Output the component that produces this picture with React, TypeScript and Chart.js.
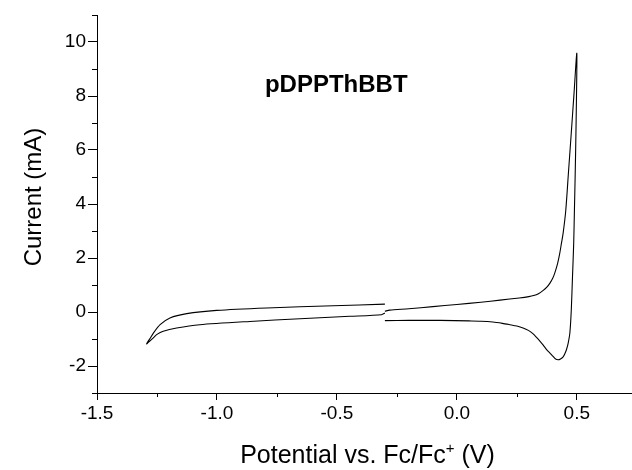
import React, { useEffect, useRef } from "react";
import { Chart, registerables } from "chart.js";

Chart.register(...registerables);

// Forward scan (from -0.3 V towards +0.5 V) and its return to -0.3 V
const anodicPotential = [
  -0.30, -0.28, -0.20, -0.10, 0.00, 0.10, 0.18, 0.26, 0.30, 0.32, 0.34, 0.36, 0.375, 0.388, 0.40,
  0.408, 0.42, 0.429, 0.436, 0.443, 0.454, 0.465, 0.477, 0.488, 0.50,
  0.497, 0.493, 0.49, 0.487, 0.482, 0.477, 0.471, 0.464, 0.457, 0.45, 0.443, 0.432, 0.422, 0.41,
  0.401, 0.388, 0.374, 0.36, 0.346, 0.332, 0.318, 0.298, 0.276, 0.25, 0.221, 0.19, 0.15, 0.10,
  0.05, -0.07, -0.20, -0.30,
];
const anodicCurrent = [
  0.03, 0.07, 0.12, 0.20, 0.28, 0.36, 0.44, 0.52, 0.57, 0.61, 0.68, 0.80, 0.92, 1.07, 1.26,
  1.44, 1.80, 2.18, 2.55, 2.92, 3.77, 5.15, 6.65, 8.05, 9.58,
  7.0, 5.0, 3.77, 2.55, 1.31, 0.08, -0.78, -1.15, -1.39, -1.55, -1.66, -1.74, -1.77, -1.73,
  -1.64, -1.52, -1.39, -1.23, -1.08, -0.94, -0.81, -0.68, -0.59, -0.52, -0.47, -0.42, -0.37, -0.34,
  -0.33, -0.31, -0.31, -0.32,
];

// Scan from -0.3 V towards -1.3 V and back to -0.3 V
const cathodicPotential = [
  -0.30, -0.314, -0.446, -0.654, -0.863, -1.071, -1.168, -1.224, -1.25, -1.265, -1.28, -1.293,
  -1.279, -1.265, -1.237, -1.196, -1.126, -1.001, -0.793, -0.515, -0.30,
];
const cathodicCurrent = [
  -0.04, -0.10, -0.16, -0.25, -0.35, -0.47, -0.59, -0.71, -0.83, -0.96, -1.08, -1.18,
  -0.98, -0.78, -0.47, -0.22, -0.06, 0.06, 0.15, 0.23, 0.29,
];

const xMajorTicks = [-1.5, -1.0, -0.5, 0.0, 0.5];
const xMinorTicks = [-1.25, -0.75, -0.25, 0.25];
const yMajorTicks = [-2, 0, 2, 4, 6, 8, 10];
const yMinorTicks = [-3, -1, 1, 3, 5, 7, 9, 11];

const sampleName = "pDPPThBBT";
const sampleLabelPos = { x: -0.8, y: 8.15 };
const yTitle = "Current (mA)";
const xTitleMain = "Potential vs. Fc/Fc";
const xTitleSup = "+";
const xTitleEnd = " (V)";

const FONT = "Arial, 'Liberation Sans', Helvetica, sans-serif";

export default function App() {
  const canvasRef = useRef<HTMLCanvasElement | null>(null);

  useEffect(() => {
    const canvas = canvasRef.current;
    if (!canvas) return;

    const toPts = (xs: number[], ys: number[]) => xs.map((x, i) => ({ x, y: ys[i] }));

    const decor = {
      id: "decor",
      afterDraw(chart: any) {
        const { ctx, chartArea } = chart;
        const xs = chart.scales.x;
        const ys = chart.scales.y;
        ctx.save();
        ctx.strokeStyle = "#000";
        ctx.lineWidth = 1;
        ctx.beginPath();
        for (const v of xMinorTicks) {
          const px = Math.round(xs.getPixelForValue(v)) + 0.5;
          ctx.moveTo(px, chartArea.bottom);
          ctx.lineTo(px, chartArea.bottom + 4);
        }
        for (const v of yMinorTicks) {
          const py = Math.round(ys.getPixelForValue(v)) + 0.5;
          ctx.moveTo(chartArea.left - 5, py);
          ctx.lineTo(chartArea.left, py);
        }
        ctx.stroke();

        ctx.fillStyle = "#000";
        // sample name
        ctx.font = `bold 24px ${FONT}`;
        ctx.textAlign = "left";
        ctx.textBaseline = "alphabetic";
        ctx.fillText(sampleName, xs.getPixelForValue(sampleLabelPos.x), ys.getPixelForValue(sampleLabelPos.y));

        // y title
        ctx.save();
        ctx.translate(41, 197);
        ctx.rotate(-Math.PI / 2);
        ctx.font = `24px ${FONT}`;
        ctx.textAlign = "center";
        ctx.fillText(yTitle, 0, 0);
        ctx.restore();

        // x title with superscript
        const mainFont = `25px ${FONT}`;
        const supFont = `15px ${FONT}`;
        ctx.font = mainFont;
        const w1 = ctx.measureText(xTitleMain).width;
        const w3 = ctx.measureText(xTitleEnd).width;
        ctx.font = supFont;
        const w2 = ctx.measureText(xTitleSup).width;
        const total = w1 + w2 + w3;
        const cx = (chartArea.left + chartArea.right) / 2 + 3;
        const x0 = cx - total / 2;
        const base = 463;
        ctx.textAlign = "left";
        ctx.font = mainFont;
        ctx.fillText(xTitleMain, x0, base);
        ctx.font = supFont;
        ctx.fillText(xTitleSup, x0 + w1, base - 10);
        ctx.font = mainFont;
        ctx.fillText(xTitleEnd, x0 + w1 + w2, base);
        ctx.restore();
      },
    };

    const chart = new Chart(canvas, {
      type: "scatter",
      data: {
        datasets: [
          {
            data: toPts(anodicPotential, anodicCurrent),
            showLine: true,
            borderColor: "#000",
            borderWidth: 1.1,
            pointRadius: 0,
            tension: 0.25,
            fill: false,
          },
          {
            data: toPts(cathodicPotential, cathodicCurrent),
            showLine: true,
            borderColor: "#000",
            borderWidth: 1.1,
            pointRadius: 0,
            tension: 0.25,
            fill: false,
          },
        ],
      },
      options: {
        animation: false,
        responsive: false,
        maintainAspectRatio: false,
        layout: { padding: { top: 15, right: 0, left: 0, bottom: 0 } },
        plugins: { legend: { display: false }, tooltip: { enabled: false }, title: { display: false } },
        scales: {
          x: {
            type: "linear",
            min: -1.5,
            max: 0.73,
            afterBuildTicks: (scale: any) => {
              scale.ticks = xMajorTicks.map((v) => ({ value: v }));
            },
            afterFit: (scale: any) => {
              scale.height = 77;
            },
            ticks: {
              color: "#000",
              font: { family: FONT, size: 19 },
              padding: 2,
              maxRotation: 0,
              callback: (v: any) => Number(v).toFixed(1),
            },
            grid: {
              display: true,
              drawOnChartArea: false,
              drawTicks: true,
              tickLength: 7,
              color: "#000",
              lineWidth: 1,
            },
            border: { display: true, color: "#000", width: 1 },
            title: { display: false },
          },
          y: {
            type: "linear",
            min: -3,
            max: 11,
            afterBuildTicks: (scale: any) => {
              scale.ticks = yMajorTicks.map((v) => ({ value: v }));
            },
            afterFit: (scale: any) => {
              scale.width = 97;
            },
            ticks: {
              color: "#000",
              font: { family: FONT, size: 19 },
              padding: 2,
              callback: (v: any) => String(v),
            },
            grid: {
              display: true,
              drawOnChartArea: false,
              drawTicks: true,
              tickLength: 9,
              color: "#000",
              lineWidth: 1,
            },
            border: { display: true, color: "#000", width: 1 },
            title: { display: false },
          },
        },
      },
      plugins: [decor],
    });

    return () => chart.destroy();
  }, []);

  return (
    <div style={{ position: "fixed", left: 0, top: 0, width: 632, height: 470, background: "#fff" }}>
      <canvas ref={canvasRef} width={632} height={470} style={{ width: 632, height: 470, display: "block" }} />
    </div>
  );
}
